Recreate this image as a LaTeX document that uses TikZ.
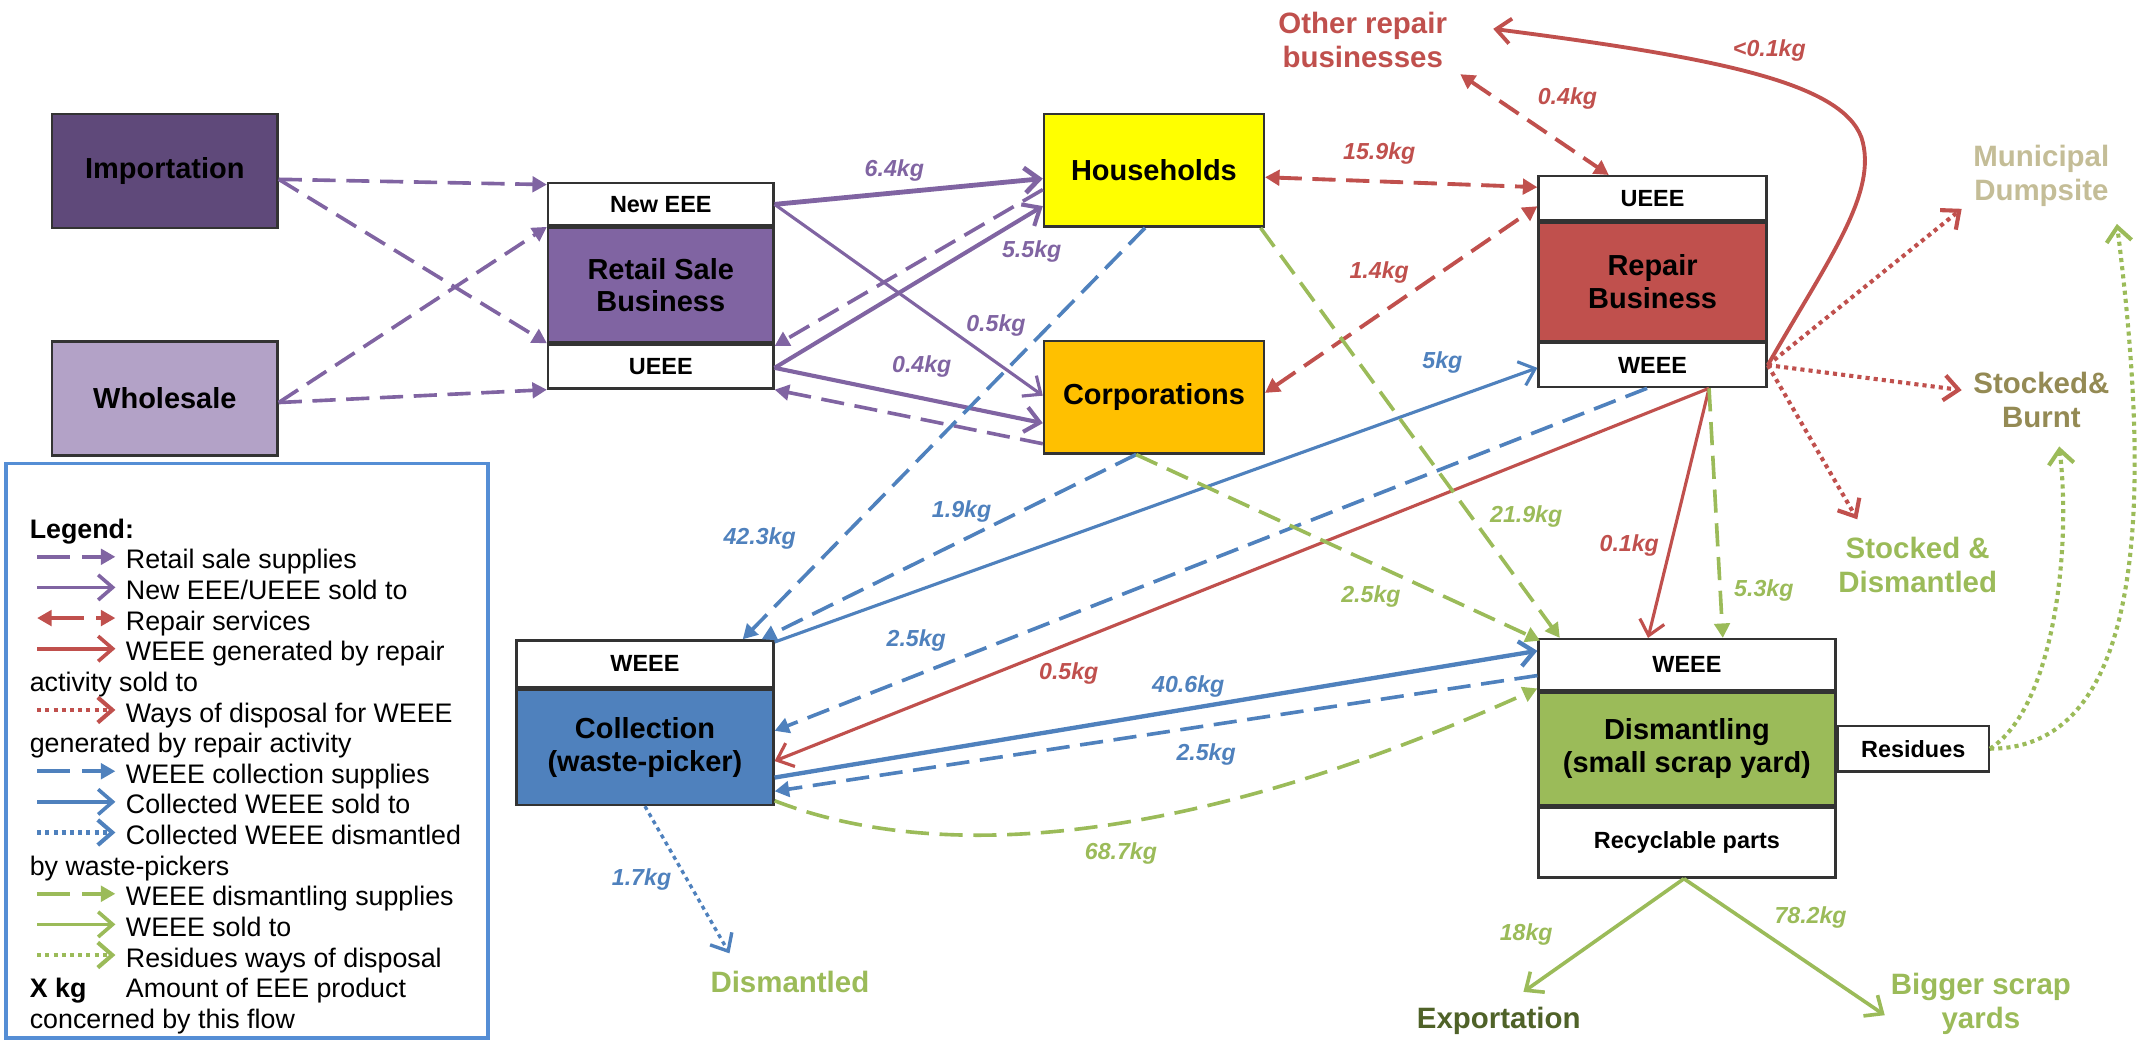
\documentclass[tikz,border=0pt]{standalone}
\usepackage{fontspec}
\setmainfont{Liberation Sans}
\usepackage{tikz}
\usetikzlibrary{calc,arrows.meta}

\definecolor{retailC}{HTML}{8064A2}
\definecolor{importC}{HTML}{5F497A}
\definecolor{wholeC}{HTML}{B3A2C7}
\definecolor{houseC}{HTML}{FFFF00}
\definecolor{corpC}{HTML}{FFC000}
\definecolor{repairC}{HTML}{C0504D}
\definecolor{collectC}{HTML}{4F81BD}
\definecolor{dismantC}{HTML}{9BBB59}
\definecolor{dumpC}{HTML}{C4BD97}
\definecolor{burntC}{HTML}{948A54}
\definecolor{exportC}{HTML}{4F6228}
\definecolor{legendC}{HTML}{558ED5}

\newcommand{\boxfont}{\fontsize{6}{6.8}\selectfont\bfseries}
\newcommand{\tagfont}{\fontsize{4.85}{5.5}\selectfont\bfseries}
\newcommand{\kgfont}{\fontsize{4.8}{5.4}\selectfont\bfseries\itshape}
\newcommand{\outerfont}{\fontsize{6.1}{7.1}\selectfont\bfseries}
\newcommand{\legfont}{\fontsize{5.55}{6.3}\selectfont}

\begin{document}
\begin{tikzpicture}[x=0.1mm, y=-0.1mm,
    mainbox/.style={draw=black!80, line width=0.5pt, inner sep=0pt, align=center, font=\boxfont},
    tagbox/.style={draw=black!80, line width=0.5pt, inner sep=0pt, fill=white, font=\tagfont},
    outer/.style={inner sep=0pt, align=center, font=\outerfont},
    kg/.style={inner sep=0pt, font=\kgfont},
    legtext/.style={inner sep=0pt, anchor=west, font=\legfont, text height=0.72em, text depth=0.22em},
    supply/.style={line width=0.75pt, dash pattern=on 4.8pt off 2.2pt, -{Triangle[length=3pt,width=3.2pt]}},
    service/.style={line width=0.8pt, dash pattern=on 4.8pt off 2.2pt,
      {Triangle[length=3pt,width=3.2pt]}-{Triangle[length=3pt,width=3.2pt]}},
    sold/.style={line width=0.75pt, -{Straight Barb[length=3pt,width=5.2pt]}},
    dispose/.style={line width=0.85pt, dash pattern=on 0.85pt off 0.85pt, -{Straight Barb[length=3pt,width=5.2pt]}}]

      \useasboundingbox (0,0) rectangle (1568,757);

      % Suppliers of the retail sale business
      \node[mainbox, fill=importC, minimum width=16.4mm, minimum height=8.3mm] (imp) at (120,124.5) {Importation};
      \node[mainbox, fill=wholeC, minimum width=16.4mm, minimum height=8.3mm] (whole) at (120,290) {Wholesale};

      % Retail sale business with its New EEE / UEEE tags
      \node[mainbox, fill=retailC, minimum width=16.4mm, minimum height=8.3mm] (retail) at (481,207.5) {Retail Sale\\Business};
      \node[tagbox, anchor=south, minimum width=16.4mm, minimum height=3.1mm] (newEEE) at (retail.north) {New EEE};
      \node[tagbox, anchor=north, minimum width=16.4mm, minimum height=3.2mm] (retUEEE) at (retail.south) {UEEE};

      % Consumers
      \node[mainbox, fill=houseC, minimum width=16mm, minimum height=8.2mm] (house) at (840,124) {Households};
      \node[mainbox, fill=corpC, minimum width=16mm, minimum height=8.2mm] (corp) at (840,289) {Corporations};

      % Repair business
      \node[mainbox, fill=repairC, minimum width=16.6mm, minimum height=8.6mm] (repair) at (1203,205) {Repair\\Business};
      \node[tagbox, anchor=south, minimum width=16.6mm, minimum height=3.2mm] (repUEEE) at (repair.north) {UEEE};
      \node[tagbox, anchor=north, minimum width=16.6mm, minimum height=3.2mm] (repWEEE) at (repair.south) {WEEE};

      % Collection
      \node[mainbox, fill=collectC, minimum width=18.7mm, minimum height=8.4mm] (collect) at (469.5,544) {Collection\\(waste-picker)};
      \node[tagbox, anchor=south, minimum width=18.7mm, minimum height=3.4mm] (colWEEE) at (collect.north) {WEEE};

      % Dismantling
      \node[mainbox, fill=dismantC, minimum width=21.6mm, minimum height=8.2mm] (dismant) at (1228,545) {Dismantling\\(small scrap yard)};
      \node[tagbox, anchor=south, minimum width=21.6mm, minimum height=3.7mm] (disWEEE) at (dismant.north) {WEEE};
      \node[tagbox, anchor=north, minimum width=21.6mm, minimum height=5.1mm] (recyc) at (dismant.south) {Recyclable parts};
      \node[tagbox, anchor=west, minimum width=11mm, minimum height=3.3mm] (resid) at (dismant.east) {Residues};

      % Destinations
      \node[outer, text=repairC] (other) at (992,29) {Other repair\\businesses};
      \node[outer, text=dumpC] (dump) at (1486,128) {Municipal\\Dumpsite};
      \node[outer, text=burntC] (burnt) at (1486,291) {Stocked\&\\Burnt};
      \node[outer, text=dismantC] (stockdis) at (1396,411) {Stocked \&\\Dismantled};
      \node[outer, text=dismantC] (dismantled) at (575,715) {Dismantled};
      \node[outer, text=exportC] (export) at (1091,743) {Exportation};
      \node[outer, text=dismantC] (bigger) at (1442,731) {Bigger scrap\\yards};

      % Free ends of the flows near the destinations
      \coordinate (otherIn) at (1087,21);
      \coordinate (otherOut) at (1063,54);
      \coordinate (dumpR) at (1428,152);
      \coordinate (burntR) at (1428,284);
      \coordinate (stockR) at (1352,378);
      \coordinate (dumpG) at (1541,163);
      \coordinate (burntG) at (1499,325);
      \coordinate (dmIn) at (531,694);
      \coordinate (exportIn) at (1109,722);
      \coordinate (biggerIn) at (1372,739);

      % Retail sale supplies
      \draw[supply, retailC] ($(imp.east)+(0,6)$) -- ($(newEEE.north west)+(0,2)$);
      \draw[supply, retailC] ($(imp.east)+(0,6)$) -- (retail.south west);
      \draw[supply, retailC] ($(whole.east)+(0,3)$) -- (retail.north west);
      \draw[supply, retailC] ($(whole.east)+(0,3)$) -- (retUEEE.south west);
      \draw[supply, retailC] ($(house.west)+(0,14)$) -- ($(retail.south east)+(0,2)$);
      \draw[supply, retailC] ($(corp.west)+(0,34)$) -- (retUEEE.south east);

      % New EEE / UEEE sold to
      \draw[sold, retailC, line width=1pt] (newEEE.east) -- ($(house.west)+(0,6)$);
      \draw[sold, retailC, line width=0.65pt] (newEEE.east) -- ($(corp.west)+(0,-1)$);
      \draw[sold, retailC, line width=0.85pt] ($(retUEEE.east)+(0,1)$) -- ($(house.west)+(0,26)$);
      \draw[sold, retailC, line width=0.85pt] ($(retUEEE.east)+(0,1)$) -- ($(corp.west)+(0,19)$);
      \node[kg, text=retailC] (k64) at (651,124) {6.4kg};
      \node[kg, text=retailC] (k55) at (751,183) {5.5kg};
      \node[kg, text=retailC] (k05a) at (725,237) {0.5kg};
      \node[kg, text=retailC] (k04a) at (671,267) {0.4kg};

      % Repair services
      \draw[service, repairC] ($(house.east)+(0,5)$) -- ($(repUEEE.west)+(0,-8)$);
      \draw[service, repairC] ($(corp.east)+(0,-3)$) -- ($(repUEEE.south west)+(0,-11)$);
      \draw[service, repairC] (otherOut) -- ($(repUEEE.north west)!0.31!(repUEEE.north east)$);
      \node[kg, text=repairC] (k159) at (1004,112) {15.9kg};
      \node[kg, text=repairC] (k14) at (1004,198) {1.4kg};
      \node[kg, text=repairC] (k04b) at (1141,72) {0.4kg};

      % WEEE generated by repair activity sold to
      \coordinate (repOut) at ($(repWEEE.south west)!0.745!(repWEEE.south east)$);
      \draw[sold, repairC, line width=0.8pt] (repWEEE.east) .. controls (1330,190) and (1368,140) .. (1355,100)
        .. controls (1340,60) and (1250,42) .. (otherIn);
      \draw[sold, repairC, line width=0.65pt] (repOut) -- ($(collect.east)+(0,10)$);
      \draw[sold, repairC, line width=0.65pt] (repOut) -- ($(disWEEE.north west)!0.37!(disWEEE.north east)$);
      \node[kg, text=repairC] (k01a) at (1288,37) {<0.1kg};
      \node[kg, text=repairC] (k05b) at (778,490) {0.5kg};
      \node[kg, text=repairC] (k01b) at (1186,397) {0.1kg};

      % Ways of disposal for WEEE of the repair activity
      \draw[dispose, repairC] (repWEEE.east) -- (dumpR);
      \draw[dispose, repairC] (repWEEE.east) -- (burntR);
      \draw[dispose, repairC] (repWEEE.east) -- (stockR);

      % WEEE collection supplies
      \coordinate (corpOut) at ($(corp.south west)!0.42!(corp.south east)$);
      \draw[supply, collectC] ($(house.south west)!0.46!(house.south east)$) -- ($(colWEEE.north west)!0.877!(colWEEE.north east)$);
      \draw[supply, collectC] (corpOut) -- ($(colWEEE.north west)!0.95!(colWEEE.north east)$);
      \draw[supply, collectC] ($(repWEEE.south west)!0.476!(repWEEE.south east)$) -- ($(collect.east)+(0,-12)$);
      \draw[supply, collectC] ($(disWEEE.west)+(0,8)$) -- ($(collect.east)+(0,32)$);
      \node[kg, text=collectC] (k423) at (553,392) {42.3kg};
      \node[kg, text=collectC] (k19) at (700,372) {1.9kg};
      \node[kg, text=collectC] (k25b) at (667,466) {2.5kg};
      \node[kg, text=collectC] (k25c) at (878,549) {2.5kg};

      % Collected WEEE sold to / dismantled by waste-pickers
      \draw[sold, collectC, line width=0.65pt] ($(colWEEE.north east)+(0,2)$) -- ($(repWEEE.west)+(0,2)$);
      \draw[sold, collectC, line width=0.9pt] ($(collect.east)+(0,22)$) -- ($(disWEEE.west)+(0,-10)$);
      \draw[dispose, collectC, line width=0.7pt] (collect.south) -- (dmIn);
      \node[kg, text=collectC] (k5) at (1050,264) {5kg};
      \node[kg, text=collectC] (k406) at (865,500) {40.6kg};
      \node[kg, text=collectC] (k17) at (467,640) {1.7kg};

      % WEEE dismantling supplies
      \draw[supply, dismantC] ($(house.south west)!0.98!(house.south east)$) -- ($(disWEEE.north west)!0.075!(disWEEE.north east)$);
      \draw[supply, dismantC] (corpOut) -- ($(disWEEE.north west)+(2,2)$);
      \draw[supply, dismantC] (repOut) -- ($(disWEEE.north west)!0.62!(disWEEE.north east)$);
      \draw[supply, dismantC] ($(collect.south east)+(0,-4)$) .. controls (680,628) and (860,618) .. ($(disWEEE.south west)+(0,-2)$);
      \node[kg, text=dismantC] (k219) at (1111,376) {21.9kg};
      \node[kg, text=dismantC] (k25a) at (998,434) {2.5kg};
      \node[kg, text=dismantC] (k53) at (1284,430) {5.3kg};
      \node[kg, text=dismantC] (k687) at (816,621) {68.7kg};

      % WEEE sold to
      \coordinate (recOut) at ($(recyc.south west)!0.49!(recyc.south east)$);
      \draw[sold, dismantC] (recOut) -- (exportIn);
      \draw[sold, dismantC] (recOut) -- (biggerIn);
      \node[kg, text=dismantC] (k18) at (1111,680) {18kg};
      \node[kg, text=dismantC] (k782) at (1318,668) {78.2kg};

      % Residues ways of disposal
      \draw[dispose, dismantC] (resid.east) .. controls (1495,515) and (1508,400) .. (burntG);
      \draw[dispose, dismantC] (resid.east) .. controls (1572,545) and (1562,330) .. (dumpG);

      % Legend
      \node[draw=legendC, line width=0.8pt, minimum width=35.1mm, minimum height=41.8mm, anchor=north west] (legend) at (3,336) {};
      \node[legtext, font=\legfont\bfseries] (lg0) at (21,383) {Legend:};
      \node[legtext] (lg1) at (91,405.3) {Retail sale supplies};
      \node[legtext] (lg2) at (91,427.6) {New EEE/UEEE sold to};
      \node[legtext] (lg3) at (91,449.9) {Repair services};
      \node[legtext] (lg4) at (91,472.2) {WEEE generated by repair};
      \node[legtext] (lg5) at (21,494.5) {activity sold to};
      \node[legtext] (lg6) at (91,516.8) {Ways of disposal for WEEE};
      \node[legtext] (lg7) at (21,539.1) {generated by repair activity};
      \node[legtext] (lg8) at (91,561.4) {WEEE collection supplies};
      \node[legtext] (lg9) at (91,583.7) {Collected WEEE sold to};
      \node[legtext] (lg10) at (91,606) {Collected WEEE dismantled};
      \node[legtext] (lg11) at (21,628.3) {by waste-pickers};
      \node[legtext] (lg12) at (91,650.6) {WEEE dismantling supplies};
      \node[legtext] (lg13) at (91,672.9) {WEEE sold to};
      \node[legtext] (lg14) at (91,695.2) {Residues ways of disposal};
      \node[legtext, font=\legfont\bfseries] (lg15x) at (21,717.5) {X kg};
      \node[legtext] (lg15) at (91,717.5) {Amount of EEE product};
      \node[legtext] (lg16) at (21,739.8) {concerned by this flow};

      % Legend samples
      \draw[supply, retailC, dash pattern=on 6.8pt off 2.6pt] ($(lg1.west)+(-64,0)$) -- ($(lg1.west)+(-7,0)$);
      \draw[sold, retailC] ($(lg2.west)+(-64,0)$) -- ($(lg2.west)+(-7,0)$);
      \draw[service, repairC, dash pattern=on 6.8pt off 2.6pt] ($(lg3.west)+(-64,0)$) -- ($(lg3.west)+(-7,0)$);
      \draw[sold, repairC] ($(lg4.west)+(-64,0)$) -- ($(lg4.west)+(-7,0)$);
      \draw[dispose, repairC] ($(lg6.west)+(-64,0)$) -- ($(lg6.west)+(-7,0)$);
      \draw[supply, collectC, dash pattern=on 6.8pt off 2.6pt] ($(lg8.west)+(-64,0)$) -- ($(lg8.west)+(-7,0)$);
      \draw[sold, collectC] ($(lg9.west)+(-64,0)$) -- ($(lg9.west)+(-7,0)$);
      \draw[dispose, collectC] ($(lg10.west)+(-64,0)$) -- ($(lg10.west)+(-7,0)$);
      \draw[supply, dismantC, dash pattern=on 6.8pt off 2.6pt] ($(lg12.west)+(-64,0)$) -- ($(lg12.west)+(-7,0)$);
      \draw[sold, dismantC] ($(lg13.west)+(-64,0)$) -- ($(lg13.west)+(-7,0)$);
      \draw[dispose, dismantC] ($(lg14.west)+(-64,0)$) -- ($(lg14.west)+(-7,0)$);
    \end{tikzpicture}
\end{document}
